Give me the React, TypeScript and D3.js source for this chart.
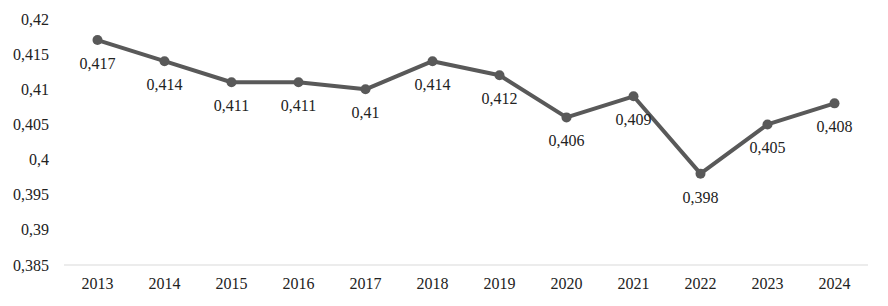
import React from "react";
import * as d3 from "d3";

const years = ["2013","2014","2015","2016","2017","2018","2019","2020","2021","2022","2023","2024"];
const values = [0.417,0.414,0.411,0.411,0.41,0.414,0.412,0.406,0.409,0.398,0.405,0.408];
const yTicks = [0.385,0.39,0.395,0.4,0.405,0.41,0.415,0.42];

const W = 888, H = 306;
const fmt = (v: number) => String(+v.toFixed(3)).replace(".", ",");

export default function App() {
  const x = d3.scaleBand<string>().domain(years).range([64, 868]);
  const y = d3.scaleLinear().domain([0.385, 0.42]).range([265, 19]);
  const cx = (d: string) => (x(d) as number) + x.bandwidth() / 2;
  const line = d3.line<number>().x((_, i) => cx(years[i])).y(v => y(v));
  const font = "'Liberation Serif', 'Times New Roman', serif";
  return (
    <svg width={W} height={H} style={{ position: "absolute", left: 0, top: 0, background: "#fff" }} fontFamily={font}>
      <line x1={64} x2={868} y1={y(0.385)} y2={y(0.385)} stroke="#d9d9d9" strokeWidth={1} />
      {yTicks.map(t => (
        <text key={t} x={49} y={y(t)} dy="0.35em" textAnchor="end" fontSize={16} fill="#222">{fmt(t)}</text>
      ))}
      {years.map(d => (
        <text key={d} x={cx(d)} y={289} textAnchor="middle" fontSize={16} fill="#222">{d}</text>
      ))}
      <path d={line(values) || ""} fill="none" stroke="#595959" strokeWidth={4} strokeLinejoin="round" />
      {values.map((v, i) => (
        <circle key={i} cx={cx(years[i])} cy={y(v)} r={5} fill="#595959" />
      ))}
      {values.map((v, i) => (
        <text key={"l" + i} x={cx(years[i])} y={y(v) + 29} textAnchor="middle" fontSize={16} fill="#222">{fmt(v)}</text>
      ))}
    </svg>
  );
}
